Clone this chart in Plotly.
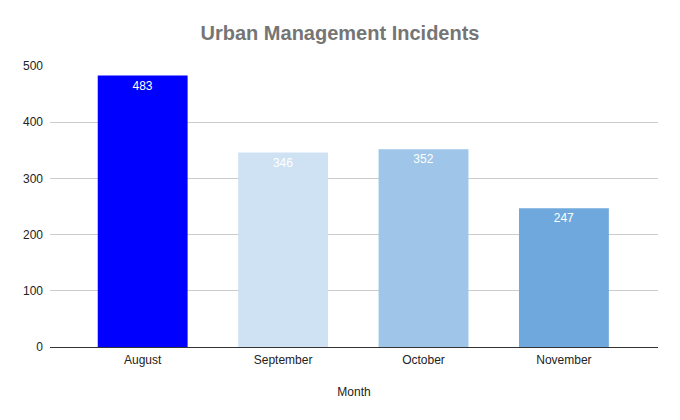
import plotly.graph_objects as go

# ── Data ─────────────────────────────────────────────
months = ["August", "September", "October", "November"]
incidents = [483, 346, 352, 247]
bar_colors = ["#0000FF", "#CFE2F3", "#9FC5E8", "#6FA8DC"]
y_ticks = [0, 100, 200, 300, 400, 500]

FONT = "Liberation Sans, Arial, sans-serif"

fig = go.Figure(
    go.Bar(
        x=months,
        y=incidents,
        marker=dict(color=bar_colors, line=dict(width=0)),
        width=0.64,
        text=incidents,
        textposition="inside",
        insidetextanchor="end",
        textangle=0,
        textfont=dict(color="white", size=12, family=FONT),
        hoverinfo="x+y",
    )
)

# page has an 8px body margin, so offsets are trimmed by 8
fig.update_layout(
    width=680,
    height=420,
    margin=dict(l=42, r=30, t=58, b=81),
    paper_bgcolor="white",
    plot_bgcolor="white",
    showlegend=False,
    font=dict(family=FONT, size=12, color="#222222"),
    title=dict(
        text="<b>Urban Management Incidents</b>",
        x=332 / 680,
        xanchor="center",
        y=1 - 25 / 420,
        yanchor="middle",
        font=dict(size=20, color="#757575", family=FONT),
    ),
    xaxis=dict(
        range=[-0.66, 3.67],
        showgrid=False,
        showline=True,
        linecolor="#333333",
        linewidth=1,
        ticks="",
        ticklabelstandoff=2,
        tickfont=dict(size=12, color="#222222"),
        title=dict(text="Month", font=dict(size=12, color="#222222"), standoff=21),
    ),
    yaxis=dict(
        range=[0, 500],
        tickvals=y_ticks,
        showgrid=True,
        gridcolor="#CCCCCC",
        zeroline=False,
        ticks="",
        ticklabelstandoff=6,
        tickfont=dict(size=12, color="#222222"),
    ),
)

fig.write_html("out.html")
